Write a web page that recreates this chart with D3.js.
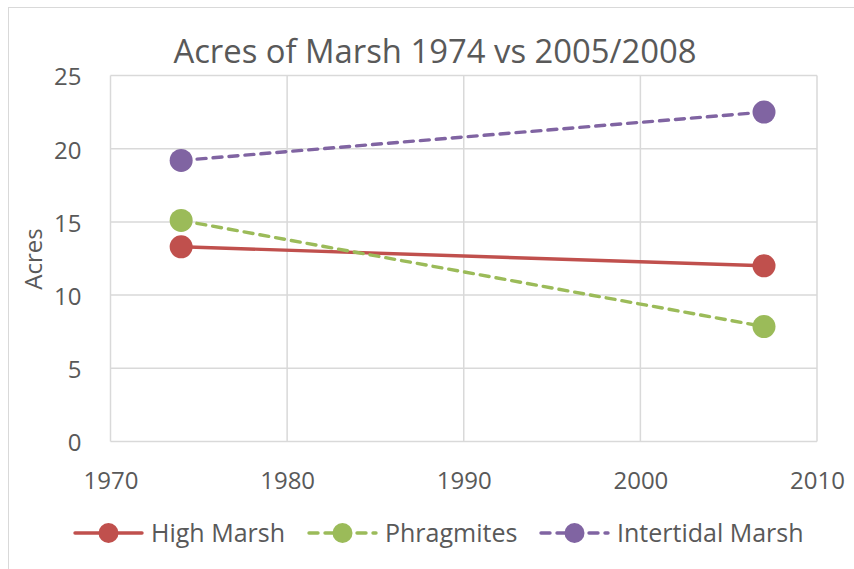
<!DOCTYPE html>
<html><head><meta charset="utf-8">
<script src="https://cdn.jsdelivr.net/npm/d3@7"></script>
<style>body{margin:0;background:#fff;} text{font-family:"Open Sans",sans-serif;fill:#595959;}</style>
</head><body><svg id="c" width="854" height="569"></svg>
<script>
const years = [1974, 2007];
const highMarsh = [13.3, 12.0];
const phragmites = [15.1, 7.85];
const intertidal = [19.2, 22.5];
const seriesNames = ["High Marsh", "Phragmites", "Intertidal Marsh"];
const seriesColors = ["#C0504D", "#9BBB59", "#8064A2"];
const seriesDash = [null, "9,7", "9,7"];
const xTicks = [1970, 1980, 1990, 2000, 2010];
const yTicks = [0, 5, 10, 15, 20, 25];
const title = "Acres of Marsh 1974 vs 2005/2008";
const yTitle = "Acres";

const svg = d3.select("#c");
svg.append("rect").attr("x",8.5).attr("y",7.5).attr("width",900).attr("height",600).attr("fill","#fff").attr("stroke","#d9d9d9");

const x = d3.scaleLinear().domain([1970,2010]).range([110.5,817]);
const y = d3.scaleLinear().domain([0,25]).range([441.5,75.5]);

const g = svg.append("g");
g.selectAll(".hg").data(yTicks).join("line").attr("x1",x(1970)).attr("x2",x(2010)).attr("y1",d=>y(d)).attr("y2",d=>y(d)).attr("stroke","#d9d9d9").attr("stroke-width",1.5);
g.selectAll(".vg").data(xTicks).join("line").attr("y1",y(0)).attr("y2",y(25)).attr("x1",d=>x(d)).attr("x2",d=>x(d)).attr("stroke","#d9d9d9").attr("stroke-width",1.5);

const yAxis = svg.append("g").attr("transform",`translate(${x(1970)},0)`).call(d3.axisLeft(y).tickValues(yTicks).tickSize(0).tickPadding(29));
yAxis.select(".domain").remove();
yAxis.attr("font-size",null).attr("font-family",null);
yAxis.selectAll("text").style("font-size","24px").attr("dy","0.39em");
const xAxis = svg.append("g").attr("transform",`translate(0,${y(0)})`).call(d3.axisBottom(x).tickValues(xTicks).tickFormat(d3.format("d")).tickSize(0));
xAxis.select(".domain").remove();
xAxis.attr("font-size",null).attr("font-family",null);
xAxis.selectAll("text").style("font-size","24px").attr("y",47.5).attr("dy",null);

svg.append("text").attr("x",435).attr("y",63).attr("text-anchor","middle").style("font-size","32.8px").text(title);
svg.append("text").attr("transform","translate(42,259) rotate(-90)").attr("text-anchor","middle").style("font-size","24px").text(yTitle);

const data = [highMarsh, phragmites, intertidal];
const line = d3.line().x((d,i)=>x(years[i])).y(d=>y(d));
data.forEach((vals,k)=>{
  svg.append("path").datum(vals).attr("d",line).attr("fill","none").attr("stroke",seriesColors[k]).attr("stroke-width",3.4).attr("stroke-linecap","round").attr("stroke-dasharray",seriesDash[k]);
  svg.selectAll(null).data(vals).join("circle").attr("cx",(d,i)=>x(years[i])).attr("cy",d=>y(d)).attr("r",11.5).attr("fill",seriesColors[k]);
});

const legX = [74, 308, 540];
const legY = 533;
seriesNames.forEach((n,k)=>{
  const lg = svg.append("g").attr("transform",`translate(${legX[k]},${legY})`);
  lg.append("line").attr("x1",1).attr("x2",68).attr("stroke",seriesColors[k]).attr("stroke-width",3.4).attr("stroke-linecap","round").attr("stroke-dasharray",seriesDash[k]);
  lg.append("circle").attr("cx",34.5).attr("r",10).attr("fill",seriesColors[k]);
  lg.append("text").attr("x",77).attr("y",8.5).style("font-size","25px").text(n);
});
</script></body></html>
